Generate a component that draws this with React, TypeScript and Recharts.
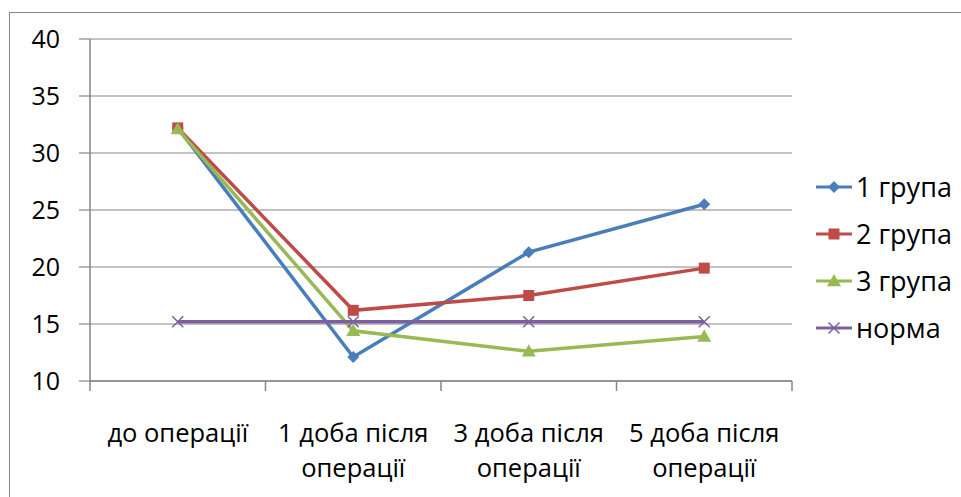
import { LineChart, Line, XAxis, YAxis, CartesianGrid } from 'recharts';

const categories = ['до операції', '1 доба після операції', '3 доба після операції', '5 доба після операції'];
const categoryLines = [['до операції'], ['1 доба після', 'операції'], ['3 доба після', 'операції'], ['5 доба після', 'операції']];
const yTicks = [10, 15, 20, 25, 30, 35, 40];

const group1 = [32.2, 12.1, 21.3, 25.5];
const group2 = [32.2, 16.2, 17.5, 19.9];
const group3 = [32.1, 14.4, 12.6, 13.9];
const norm = [15.2, 15.2, 15.2, 15.2];

const series = [
  { key: 'g1', name: '1 група', color: '#4A7EBB', marker: 'diamond', values: group1 },
  { key: 'g2', name: '2 група', color: '#BE4B48', marker: 'square', values: group2 },
  { key: 'g3', name: '3 група', color: '#98B954', marker: 'triangle', values: group3 },
  { key: 'norm', name: 'норма', color: '#7D60A0', marker: 'cross', values: norm },
];

const data = categories.map((c, i) => {
  const row: Record<string, string | number> = { cat: c, idx: i };
  series.forEach((s) => {
    row[s.key] = s.values[i];
  });
  return row;
});

const FONT = '"Open Sans", sans-serif';
const AXIS = '#868686';
const W = 961;
const H = 497;
const M = { top: 39, right: 169, bottom: 36, left: 0 };
const Y_W = 90;
const PLOT_W = W - M.left - M.right - Y_W;
const BAND = PLOT_W / categories.length;
const LABEL_SIZE = 25.5;

function Marker({ type, cx, cy, color }: { type: string; cx: number; cy: number; color: string }) {
  if (type === 'diamond') {
    const r = 6;
    return <path d={`M${cx},${cy - r}L${cx + r},${cy}L${cx},${cy + r}L${cx - r},${cy}Z`} fill={color} />;
  }
  if (type === 'square') {
    const r = 5.5;
    return <rect x={cx - r} y={cy - r} width={r * 2} height={r * 2} fill={color} />;
  }
  if (type === 'triangle') {
    const r = 7;
    return <path d={`M${cx},${cy - r}L${cx + r},${cy + r * 0.75}L${cx - r},${cy + r * 0.75}Z`} fill={color} />;
  }
  const r = 5.5;
  return (
    <path
      d={`M${cx - r},${cy - r}L${cx + r},${cy + r}M${cx - r},${cy + r}L${cx + r},${cy - r}`}
      stroke={color}
      strokeWidth={1.5}
      fill="none"
    />
  );
}

function makeDot(type: string, color: string) {
  return (props: any) => {
    const { cx, cy, index } = props;
    if (cx == null || cy == null) return <g key={index} />;
    return (
      <g key={index}>
        <Marker type={type} cx={cx} cy={cy} color={color} />
      </g>
    );
  };
}

// category labels sit between boundary ticks, each line as its own text
function CategoryTick(props: any) {
  const { x, y, index } = props;
  const lines = categoryLines[index] || [];
  const top = y - 8;
  return (
    <g>
      <line x1={x - BAND / 2} y1={top} x2={x - BAND / 2} y2={top + 10} stroke={AXIS} strokeWidth={1.5} />
      {index === categories.length - 1 && (
        <line x1={x + BAND / 2} y1={top} x2={x + BAND / 2} y2={top + 10} stroke={AXIS} strokeWidth={1.5} />
      )}
      {lines.map((l: string, i: number) => (
        <text
          key={i}
          x={x}
          y={top + 61 + i * 35}
          textAnchor="middle"
          fontFamily={FONT}
          fontSize={LABEL_SIZE}
          fill="#000"
        >
          {l}
        </text>
      ))}
    </g>
  );
}

function SideLegend() {
  return (
    <div style={{ position: 'absolute', left: 814, top: 163, fontFamily: FONT, fontSize: 27, color: '#000' }}>
      {series.map((s) => (
        <div key={s.key} style={{ display: 'flex', alignItems: 'center', height: 47, whiteSpace: 'nowrap' }}>
          <svg width={40} height={20} style={{ marginRight: 2 }}>
            <line x1={2} y1={10} x2={38} y2={10} stroke={s.color} strokeWidth={3} />
            <Marker type={s.marker} cx={20} cy={10} color={s.color} />
          </svg>
          <span>{s.name}</span>
        </div>
      ))}
    </div>
  );
}

export default function App() {
  return (
    <div style={{ position: 'fixed', left: 0, top: 0, width: W, height: H, overflow: 'hidden', background: '#fff' }}>
      <div
        style={{
          position: 'absolute',
          left: 9,
          top: 12,
          width: 1000,
          height: 600,
          border: `1.5px solid ${AXIS}`,
        }}
      />
      <LineChart width={W} height={H} data={data} margin={M} style={{ position: 'absolute', left: 0, top: 0 }}>
        <CartesianGrid vertical={false} stroke={AXIS} strokeWidth={1.2} />
        <XAxis
          dataKey="cat"
          interval={0}
          padding={{ left: BAND / 2, right: BAND / 2 }}
          tickLine={false}
          axisLine={{ stroke: AXIS, strokeWidth: 1.5 }}
          tick={<CategoryTick />}
          height={80}
        />
        <YAxis
          width={Y_W}
          domain={[10, 40]}
          ticks={yTicks}
          interval={0}
          tickSize={11}
          tickMargin={19}
          tickLine={{ stroke: AXIS, strokeWidth: 1.2 }}
          axisLine={{ stroke: AXIS, strokeWidth: 1.5 }}
          tick={{ fontFamily: FONT, fontSize: 25, fill: '#000' }}
        />
        {series.map((s) => (
          <Line
            key={s.key}
            dataKey={s.key}
            name={s.name}
            stroke={s.color}
            strokeWidth={3.5}
            dot={makeDot(s.marker, s.color)}
            activeDot={false}
            isAnimationActive={false}
          />
        ))}
      </LineChart>
      <SideLegend />
    </div>
  );
}
